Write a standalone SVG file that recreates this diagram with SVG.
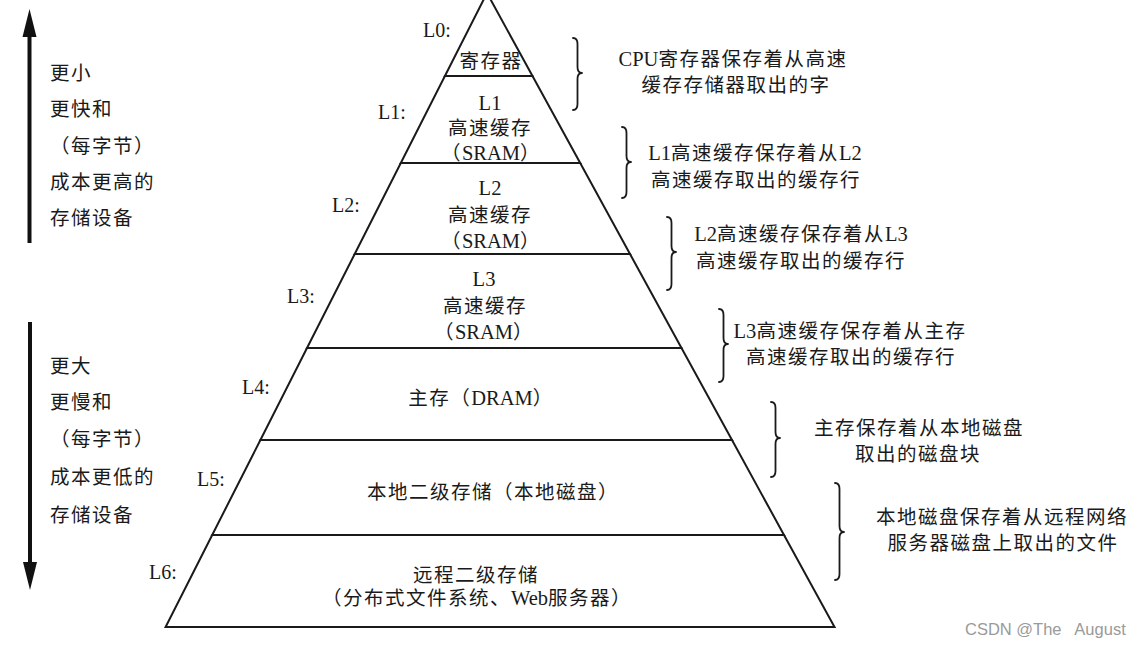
<svg xmlns="http://www.w3.org/2000/svg" width="1142" height="647" viewBox="0 0 1142 647">
  <style>
    .lvl { fill: #ffffff; stroke: #1a1a1a; stroke-width: 2; stroke-linejoin: miter; }
    .t { font-family: "Liberation Serif", "Noto Sans CJK SC", serif; font-size: 19.5px; letter-spacing: 1.5px; fill: #1a1a1a; text-anchor: middle; }
    .tl { font-family: "Liberation Serif", "Noto Sans CJK SC", serif; font-size: 19.5px; letter-spacing: 1.5px; fill: #1a1a1a; text-anchor: start; }
    .lat { font-size: 20.5px; letter-spacing: 0px; }
    .lab { font-family: "Liberation Serif", "Noto Sans CJK SC", serif; font-size: 20px; fill: #1a1a1a; text-anchor: start; }
    .brace { fill: none; stroke: #1a1a1a; stroke-width: 1.8; stroke-linecap: round; stroke-linejoin: round; }
    .shaft { stroke: #111111; stroke-width: 4; }
    .head { fill: #111111; }
    .wm { font-family: "Liberation Sans", Arial, sans-serif; font-size: 16.5px; fill: #9a9a9a; }
  </style>
  <rect x="0" y="0" width="1142" height="647" fill="#ffffff"/>

  <g id="level-L0">
    <polygon class="lvl" points="487,-7 532.5,76 444.9,76"/>
    <text class="lab" x="423" y="37">L0:</text>
    <text class="t" x="491" y="68">寄存器</text>
  </g>
  <g id="level-L1">
    <polygon class="lvl" points="444.9,76 532.5,76 580.2,163 400.8,163"/>
    <text class="lab" x="378" y="119">L1:</text>
    <text class="t" x="490" y="110"><tspan class="lat">L1</tspan></text>
    <text class="t" x="490" y="135">高速缓存</text>
    <text class="t" x="491" y="160">（<tspan class="lat">SRAM</tspan>）</text>
  </g>
  <g id="level-L2">
    <polygon class="lvl" points="400.8,163 580.2,163 630,254 354.7,254"/>
    <text class="lab" x="332" y="212">L2:</text>
    <text class="t" x="490" y="195"><tspan class="lat">L2</tspan></text>
    <text class="t" x="490" y="222">高速缓存</text>
    <text class="t" x="491" y="248">（<tspan class="lat">SRAM</tspan>）</text>
  </g>
  <g id="level-L3">
    <polygon class="lvl" points="354.7,254 630,254 681.5,348 307,348"/>
    <text class="lab" x="287" y="303">L3:</text>
    <text class="t" x="484" y="286"><tspan class="lat">L3</tspan></text>
    <text class="t" x="485" y="313">高速缓存</text>
    <text class="t" x="484" y="339">（<tspan class="lat">SRAM</tspan>）</text>
  </g>
  <g id="level-L4">
    <polygon class="lvl" points="307,348 681.5,348 732,440 260.4,440"/>
    <text class="lab" x="242" y="394">L4:</text>
    <text class="t" x="481" y="405">主存（<tspan class="lat">DRAM</tspan>）</text>
  </g>
  <g id="level-L5">
    <polygon class="lvl" points="260.4,440 732,440 784,535 212.2,535"/>
    <text class="lab" x="197" y="486">L5:</text>
    <text class="t" x="493" y="499">本地二级存储（本地磁盘）</text>
  </g>
  <g id="level-L6">
    <polygon class="lvl" points="212.2,535 784,535 834.5,627 165.6,627"/>
    <text class="lab" x="149" y="579">L6:</text>
    <text class="t" x="476" y="582">远程二级存储</text>
    <text class="t" x="477" y="605">（分布式文件系统、<tspan class="lat">Web</tspan>服务器）</text>
  </g>

  <g id="note-1">
    <path class="brace" d="M573,38 Q577.5,38 577.5,44 L577.5,67 Q577.5,73 582,73 Q577.5,73 577.5,79 L577.5,104 Q577.5,110 573,110"/>
    <text class="t" x="733" y="66"><tspan class="lat">CPU</tspan>寄存器保存着从高速</text>
    <text class="t" x="736" y="92">缓存存储器取出的字</text>
  </g>
  <g id="note-2">
    <path class="brace" d="M622,127 Q626.5,127 626.5,133 L626.5,156 Q626.5,162 631,162 Q626.5,162 626.5,168 L626.5,192 Q626.5,198 622,198"/>
    <text class="t" x="755" y="160"><tspan class="lat">L1</tspan>高速缓存保存着从<tspan class="lat">L2</tspan></text>
    <text class="t" x="756" y="187">高速缓存取出的缓存行</text>
  </g>
  <g id="note-3">
    <path class="brace" d="M667,217 Q671.5,217 671.5,223 L671.5,246 Q671.5,252 676,252 Q671.5,252 671.5,258 L671.5,284 Q671.5,290 667,290"/>
    <text class="t" x="801" y="241"><tspan class="lat">L2</tspan>高速缓存保存着从<tspan class="lat">L3</tspan></text>
    <text class="t" x="801" y="268">高速缓存取出的缓存行</text>
  </g>
  <g id="note-4">
    <path class="brace" d="M719,309 Q723.5,309 723.5,315 L723.5,338 Q723.5,344 728,344 Q723.5,344 723.5,350 L723.5,376 Q723.5,382 719,382"/>
    <text class="t" x="850" y="338"><tspan class="lat">L3</tspan>高速缓存保存着从主存</text>
    <text class="t" x="851" y="364">高速缓存取出的缓存行</text>
  </g>
  <g id="note-5">
    <path class="brace" d="M771,402 Q775.5,402 775.5,408 L775.5,432 Q775.5,438 780,438 Q775.5,438 775.5,444 L775.5,471 Q775.5,477 771,477"/>
    <text class="t" x="919" y="435">主存保存着从本地磁盘</text>
    <text class="t" x="918" y="461">取出的磁盘块</text>
  </g>
  <g id="note-6">
    <path class="brace" d="M835,483 Q839.5,483 839.5,489 L839.5,526 Q839.5,532 844,532 Q839.5,532 839.5,538 L839.5,574 Q839.5,580 835,580"/>
    <text class="t" x="1002" y="524">本地磁盘保存着从远程网络</text>
    <text class="t" x="1003" y="550">服务器磁盘上取出的文件</text>
  </g>

  <g id="side-top">
    <text class="tl" x="50" y="80">更小</text>
    <text class="tl" x="50" y="116">更快和</text>
    <text class="tl" x="50" y="153">（每字节）</text>
    <text class="tl" x="50" y="189">成本更高的</text>
    <text class="tl" x="50" y="225">存储设备</text>
  </g>
  <g id="side-bottom">
    <text class="tl" x="50" y="373">更大</text>
    <text class="tl" x="50" y="409">更慢和</text>
    <text class="tl" x="50" y="446">（每字节）</text>
    <text class="tl" x="50" y="484">成本更低的</text>
    <text class="tl" x="50" y="522">存储设备</text>
  </g>

  <g id="connectors">
    <line class="shaft" x1="29.5" y1="243" x2="29.5" y2="32"/>
    <polygon class="head" points="29.5,9 22.5,37 36.5,37"/>
    <line class="shaft" x1="30" y1="322" x2="30" y2="566"/>
    <polygon class="head" points="30,590 23,562 37,562"/>
  </g>

  <text class="wm" x="965" y="635" xml:space="preserve">CSDN @The   August</text>
</svg>
